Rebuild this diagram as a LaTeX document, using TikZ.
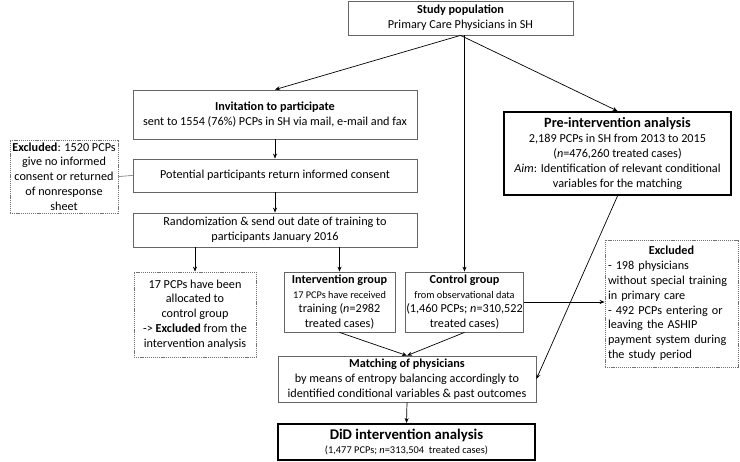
\documentclass[tikz,border=0pt]{standalone}
\usepackage{fontspec}
\setmainfont{Carlito}
\usetikzlibrary{arrows.meta}
\begin{document}
\begin{tikzpicture}[x=1pt, y=-1pt,
    box/.style={draw=black!60, line width=0.8pt, align=center, inner sep=1pt, font=\fontsize{12.2}{14.8}\selectfont},
    thickbox/.style={box, draw=black, line width=2pt},
    exclbox/.style={box, draw=black!55, dash pattern=on 1.2pt off 0.9pt},
    arr/.style={-{Stealth[length=5pt,width=4pt]}, line width=0.7pt}]
  \useasboundingbox (0,0) rectangle (740,462);
  % main column
  \node[box, minimum width=225, minimum height=34] (study) at (460.5,18)
    {\textbf{Study population}\\Primary Care Physicians in SH};
  \node[box, minimum width=284, minimum height=49] (invite) at (275,114.5)
    {\textbf{Invitation to participate}\\sent to 1554 (76\%) PCPs in SH via mail, e-mail and fax};
  \node[box, minimum width=284, minimum height=33] (consent) at (275,175.5)
    {Potential participants return informed consent};
  \node[box, minimum width=284, minimum height=34] (random) at (275,230)
    {Randomization \& send out date of training to\\participants January 2016};
  \node[box, minimum width=111, minimum height=60] (interv) at (339.5,302)
    {\textbf{Intervention group}\\\fontsize{10.3}{13}\selectfont 17 PCPs have received\\training (\textit{n}=2982\\treated cases)};
  \node[box, minimum width=117, minimum height=60] (control) at (464.5,302)
    {\textbf{Control group}\\\fontsize{10.3}{13}\selectfont from observational data\\(1,460 PCPs; \textit{n}=310,522\\treated cases)};
  \node[box, minimum width=258, minimum height=46] (match) at (407,379)
    {\textbf{Matching of physicians}\\by means of entropy balancing accordingly to\\identified conditional variables \& past outcomes};
  \node[thickbox, minimum width=257, minimum height=36] (did) at (406.5,442)
    {{\fontsize{14.8}{16}\selectfont\bfseries DiD intervention analysis}\\\fontsize{10.4}{12}\selectfont (1,477 PCPs; \textit{n}=313,504\ \ treated cases)};
  \node[thickbox, minimum width=227, minimum height=83] (pre) at (617.5,153.5)
    {{\fontsize{14.2}{17}\selectfont\bfseries Pre-intervention analysis}\\2,189 PCPs in SH from 2013 to 2015\\(\textit{n}=476,260 treated cases)\\\textit{Aim}: Identification of relevant conditional\\variables for the matching};
  % exclusions
  \node[exclbox, minimum width=108, minimum height=73] (exclA) at (64,176.5)
    {\textbf{Excluded}: 1520 PCPs\\give no informed\\consent or returned\\of nonresponse\\sheet};
  \node[exclbox, minimum width=122, minimum height=85] (exclB) at (195,314.5)
    {17 PCPs have been\\allocated to\\control group\\-{}> \textbf{Excluded} from the\\intervention analysis};
  \node[exclbox, minimum width=133, minimum height=127, text width=127, align=left, inner xsep=3pt] (exclC) at (671.5,303.5)
    {\makebox[\linewidth]{\textbf{Excluded}}\\- 198 physicians\\without special training\\in primary care\\- 492 PCPs entering or\\leaving the ASHIP\\payment system during\\the study period};
  % connectors
  \draw[arr] (study.south) -- (invite.north);
  \draw[arr] (control.north |- study.south) -- (control.north);
  \draw[arr] (study.south) -- (pre.north);
  \draw[arr] (invite.south) -- (consent.north);
  \draw[line width=0.6pt, black!60] (consent.west) -- (exclA.east);
  \draw[arr] (consent.south) -- (random.north);
  \draw[arr] (random.south -| exclB.north) -- (exclB.north);
  \draw[arr] (random.south -| interv.north) -- (interv.north);
  \draw[arr] (control.east) -- (control.east -| exclC.west);
  \draw[arr] (interv.south) -- (match.north);
  \draw[arr] (control.south) -- (match.north);
  \draw[arr] (pre.south) -- (match.east);
  \draw[arr] (match.south) -- (did.north);
\end{tikzpicture}
\end{document}
